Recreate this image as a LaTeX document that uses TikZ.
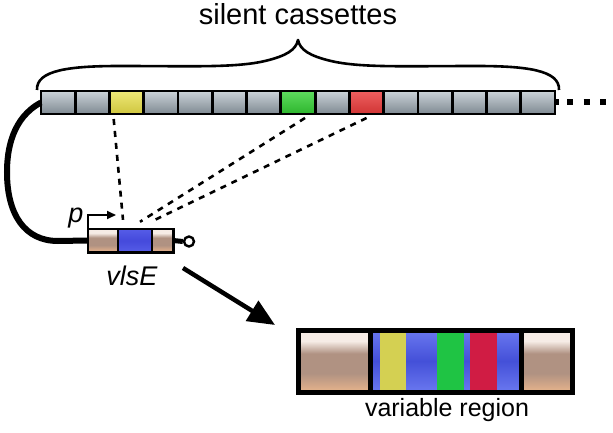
\documentclass[tikz,border=0pt]{standalone}
\usepackage{fontspec}
\setmainfont{Liberation Sans}
\usetikzlibrary{arrows.meta,calc}
\definecolor{grayT}{HTML}{CCD3D8}
\definecolor{grayM}{HTML}{A3ACB4}
\definecolor{grayB}{HTML}{7E8992}
\definecolor{yelT}{HTML}{EEE878}
\definecolor{yelB}{HTML}{CFC63E}
\definecolor{grnT}{HTML}{5EDC5E}
\definecolor{grnB}{HTML}{2DB52D}
\definecolor{redT}{HTML}{EE6060}
\definecolor{redB}{HTML}{D03434}
\definecolor{tanT}{HTML}{F6ECE6}
\definecolor{tanM}{HTML}{B09282}
\definecolor{tanB}{HTML}{E8B48C}
\definecolor{blueT}{HTML}{6A78F0}
\definecolor{blueM}{HTML}{4450D8}
\definecolor{gblue}{HTML}{4646E0}
\definecolor{vyel}{HTML}{D4D052}
\definecolor{vgrn}{HTML}{1FC444}
\definecolor{vred}{HTML}{D01C44}
\pgfdeclareverticalshading{tanshade}{100bp}{color(0bp)=(tanB); color(25bp)=(tanB); color(40bp)=(tanM); color(56bp)=(tanM); color(66bp)=(tanT); color(100bp)=(tanT)}
\pgfdeclareverticalshading{blueshade}{100bp}{color(0bp)=(blueT); color(25bp)=(blueT); color(50bp)=(blueM); color(75bp)=(blueT); color(100bp)=(blueT)}
\tikzset{
  cas/.style={draw=black, line width=2.8pt, minimum width=34.27pt, minimum height=23pt,
    inner sep=0pt, outer sep=0pt, top color=grayT, middle color=grayM, bottom color=grayB},
  casY/.style={cas, top color=yelT, middle color=yelT!80!yelB, bottom color=yelB},
  casG/.style={cas, top color=grnT, middle color=grnT!70!grnB, bottom color=grnB},
  casR/.style={cas, top color=redT, middle color=redT!70!redB, bottom color=redB},
  dashline/.style={line width=2.6pt, dash pattern=on 6pt off 6pt},
  lbl/.style={inner sep=0pt, anchor=base},
}
\begin{document}
\begin{tikzpicture}[x=1pt,y=-1pt]
\useasboundingbox (0,0) rectangle (613,433);

% title and brace
\node[lbl, font=\fontsize{29}{34}\selectfont] (title) at (298,25) {silent cassettes};
\draw[line width=2.6pt, line join=round]
  (37,90) .. controls (36,70) and (70,66) .. (120,66)
  .. controls (190,66) and (235,68) .. (265,61)
  .. controls (286,56) and (296,50) .. (298,40)
  .. controls (300,50) and (310,56) .. (331,61)
  .. controls (361,68) and (406,66) .. (476,66)
  .. controls (526,66) and (560,70) .. (559,90);

% cassettes
\foreach \i in {1,...,15}{
  \pgfmathsetmacro{\cx}{41+(\i-0.5)*34.27}
  \ifnum\i=3 \def\st{casY}\else\ifnum\i=8 \def\st{casG}\else\ifnum\i=10 \def\st{casR}\else\def\st{cas}\fi\fi\fi
  \node[\st] (c\i) at (\cx,102.5) {};
}
\coordinate (dotsend) at (606,102.5);
\draw[line width=6pt, dash pattern=on 4pt off 8pt on 6pt off 10.5pt on 6pt off 10.5pt on 6pt off 30pt] (c15.east) -- (dotsend);

% vlsE gene
\node[draw=none, minimum width=85pt, minimum height=23pt, inner sep=0pt] (gene) at (130.5,240.5) {};
\shade[shading=tanshade] (88,229) rectangle (118,252);
\shade[shading=tanshade] (152,229) rectangle (173,252);
\shade[shading=blueshade, shading angle=0] (118,229) rectangle (152,252);
\fill[gblue, opacity=0.55] (118,229) rectangle (152,252);
\draw[line width=2.6pt] (gene.south west) rectangle (gene.north east);
\draw[line width=2.6pt] (118,229) -- (118,252) (152,229) -- (152,252);
\node[circle, draw=black, line width=2.4pt, fill=white, minimum size=10pt, inner sep=0pt] (term) at (189,241.5) {};
\draw[line width=5pt] (gene.east) -- (term.west);

% connector from array to gene
\draw[line width=6pt] (c1.west) .. controls (12,118) and (7,150) .. (7,172)
  .. controls (7,215) and (25,241) .. (58,241) -- (gene.west);

% promoter
\coordinate (ptip) at (116,215);
\draw[line width=2pt, -{Triangle[length=9pt,width=8pt]}] (gene.north west) |- (ptip);
\node[lbl, font=\fontsize{27}{30}\selectfont\itshape] (p) at (76,222) {p};
\node[lbl, font=\fontsize{27}{30}\selectfont\itshape] (vlse) at (132,285) {vlsE};

% dashed recombination lines
\draw[dashline] ($(c3.south)+(-13,5)$) -- ($(gene.north)+(-7.5,-9)$);
\draw[dashline] ($(c8.south)+(7,4)$) -- ($(gene.north)+(9.5,-7)$);
\draw[dashline] ($(c10.south)+(0,4)$) -- ($(gene.north)+(24.5,-9)$);

% big arrow
\coordinate (a1) at (183,268);
\coordinate (a2) at (275,325);
\draw[line width=4.5pt, -{Triangle[length=27pt,width=23pt]}] (a1) -- (a2);

% variable region
\shade[shading=tanshade] (298,330) rectangle (370,392);
\shade[shading=tanshade] (521,330) rectangle (572,392);
\shade[shading=blueshade] (370,330) rectangle (521,392);
\fill[vyel] (380,332) rectangle (406,390);
\fill[vgrn] (437,332) rectangle (464,390);
\fill[vred] (470,332) rectangle (497,390);
\node[draw=black, line width=5pt, minimum width=274pt, minimum height=62pt, inner sep=0pt] (vr) at (435,361) {};
\draw[line width=5pt] (370,330) -- (370,392) (521.5,330) -- (521.5,392);
\node[lbl, font=\fontsize{25}{30}\selectfont] (vrl) at (447,416) {variable region};
\end{tikzpicture}
\end{document}
